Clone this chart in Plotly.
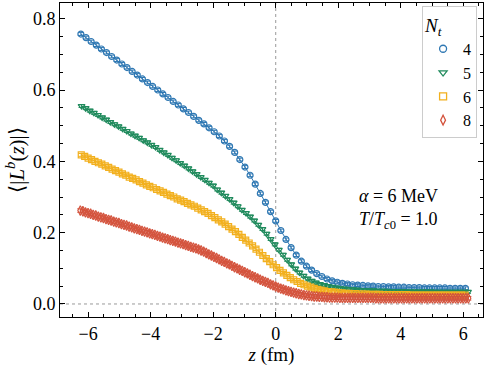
import numpy as np
import plotly.graph_objects as go

# ---------------- data ----------------
NT_LABELS = ["4", "5", "6", "8"]
# lattice start position (fm) and lattice spacing (fm) for each N_t
Z_START = [-6.232, -6.210, -6.220, -6.250]
Z_STEP = [0.164, 0.1315, 0.1096, 0.0822]

L_NT4 = [0.757,0.747,0.736,0.726,0.715,0.705,0.694,0.684,0.673,0.663,
         0.652,0.642,0.631,0.621,0.610,0.600,0.589,0.579,0.568,0.558,
         0.547,0.537,0.526,0.515,0.505,0.494,0.483,0.471,0.457,0.442,
         0.425,0.405,0.384,0.361,0.336,0.310,0.285,0.259,0.233,0.206,
         0.181,0.158,0.137,0.120,0.106,0.095,0.085,0.077,0.070,0.065,
         0.061,0.058,0.056,0.054,0.053,0.052,0.051,0.050,0.049,0.049,
         0.048,0.048,0.047,0.047,0.046,0.046,0.046,0.045,0.045,0.045,
         0.045,0.045,0.044,0.044,0.044,0.044]

L_NT5 = [0.555,0.549,0.542,0.536,0.530,0.523,0.517,0.510,0.504,0.498,
         0.491,0.485,0.478,0.472,0.466,0.459,0.453,0.446,0.440,0.432,
         0.425,0.418,0.410,0.403,0.395,0.388,0.380,0.372,0.364,0.356,
         0.348,0.340,0.332,0.321,0.312,0.303,0.294,0.284,0.274,0.264,
         0.255,0.245,0.234,0.222,0.210,0.197,0.182,0.167,0.152,0.138,
         0.124,0.111,0.099,0.088,0.079,0.071,0.065,0.060,0.056,0.053,
         0.050,0.048,0.046,0.044,0.043,0.042,0.041,0.040,0.039,0.039,
         0.038,0.038,0.037,0.037,0.037,0.036,0.036,0.036,0.036,0.035,
         0.035,0.035,0.035,0.035,0.035,0.035,0.034,0.034,0.034,0.034,
         0.034,0.034,0.034,0.034,0.034]

L_NT6 = [0.418,0.414,0.409,0.405,0.400,0.396,0.392,0.387,0.383,0.378,
         0.374,0.370,0.365,0.361,0.356,0.352,0.348,0.343,0.339,0.334,
         0.330,0.326,0.321,0.317,0.313,0.308,0.304,0.300,0.295,0.291,
         0.287,0.282,0.278,0.274,0.269,0.264,0.259,0.254,0.248,0.242,
         0.236,0.230,0.224,0.217,0.210,0.203,0.195,0.187,0.179,0.171,
         0.163,0.154,0.145,0.136,0.127,0.119,0.110,0.102,0.094,0.087,
         0.080,0.074,0.068,0.063,0.058,0.054,0.050,0.047,0.044,0.041,
         0.039,0.037,0.035,0.034,0.033,0.032,0.031,0.030,0.030,0.029,
         0.029,0.028,0.028,0.028,0.027,0.027,0.027,0.027,0.026,0.026,
         0.026,0.026,0.026,0.026,0.026,0.026,0.025,0.025,0.025,0.025,
         0.025,0.025,0.025,0.025,0.025,0.025,0.025,0.025,0.025,0.025,
         0.025,0.025,0.025]

L_NT8 = [0.262,0.260,0.257,0.255,0.253,0.250,0.248,0.245,0.243,0.241,
         0.238,0.236,0.234,0.231,0.229,0.227,0.224,0.222,0.220,0.217,
         0.215,0.212,0.210,0.208,0.205,0.203,0.201,0.198,0.196,0.194,
         0.191,0.189,0.186,0.184,0.182,0.179,0.177,0.175,0.172,0.170,
         0.168,0.165,0.163,0.160,0.158,0.156,0.153,0.150,0.147,0.143,
         0.139,0.136,0.132,0.129,0.125,0.121,0.118,0.114,0.111,0.107,
         0.103,0.100,0.096,0.093,0.089,0.086,0.082,0.078,0.075,0.072,
         0.068,0.065,0.062,0.059,0.055,0.052,0.049,0.046,0.043,0.041,
         0.038,0.036,0.034,0.032,0.030,0.028,0.027,0.025,0.024,0.023,
         0.022,0.021,0.021,0.020,0.020,0.019,0.019,0.018,0.018,0.018,
         0.018,0.017,0.017,0.017,0.017,0.017,0.017,0.017,0.017,0.017,
         0.017,0.017,0.017,0.017,0.017,0.016,0.016,0.016,0.016,0.016,
         0.016,0.016,0.016,0.016,0.016,0.016,0.016,0.016,0.016,0.016,
         0.016,0.016,0.016,0.016,0.016,0.016,0.016,0.016,0.016,0.016,
         0.016,0.016,0.016,0.016,0.016,0.016,0.016,0.016,0.016,0.016,
         0.016,0.016]

L_ERR = [0.004, 0.004, 0.004, 0.005]

X_TICKS = [-6, -4, -2, 0, 2, 4, 6]
Y_TICKS = [0.0, 0.2, 0.4, 0.6, 0.8]

SERIES = [L_NT4, L_NT5, L_NT6, L_NT8]
COLORS = ["#2f78b3", "#1f8a5c", "#f2b01e", "#d4543e"]
SYMBOLS = ["circle-open", "triangle-down-open", "square-open", "diamond-tall-open"]
SIZES = [6, 6, 6, 7]

FONT = "Liberation Serif, Times New Roman, serif"

fig = go.Figure()
for lab, ys, z0, dz, col, sym, err, sz in zip(NT_LABELS, SERIES, Z_START, Z_STEP,
                                              COLORS, SYMBOLS, L_ERR, SIZES):
    z = np.round(z0 + dz * np.arange(len(ys)), 4)
    fig.add_trace(go.Scatter(
        x=z, y=ys, name=lab, mode="lines+markers", showlegend=False,
        line=dict(color=col, width=1),
        marker=dict(symbol=sym, size=sz, color=col, line=dict(width=1.2, color=col)),
        error_y=dict(type="constant", value=err, color=col, thickness=1, width=3),
    ))
# legend entries: marker only, like the errorbar handles of the reference
for lab, col, sym in zip(NT_LABELS, COLORS, SYMBOLS):
    fig.add_trace(go.Scatter(
        x=[None], y=[None], name=lab, mode="markers",
        marker=dict(symbol=sym, size=7, color=col, line=dict(width=1.3, color=col)),
    ))

fig.add_vline(x=0, line=dict(color="#999999", width=1, dash="dot"), layer="below")
fig.add_hline(y=0, line=dict(color="#999999", width=1, dash="dot"), layer="below")

fig.add_annotation(
    xref="paper", yref="paper", x=0.703, y=0.265, xanchor="left", yanchor="bottom",
    text="<i>α</i> = 6 MeV<br><i>T</i>/<i>T</i><sub><i>c</i>0</sub> = 1.0",
    showarrow=False, align="left", font=dict(family=FONT, size=18, color="black"))

axis_common = dict(
    showline=True, linecolor="black", linewidth=1, mirror="ticks",
    ticks="inside", ticklen=5, tickcolor="black", showgrid=False, zeroline=False,
    tickfont=dict(family=FONT, size=18, color="black"),
)
fig.update_xaxes(**axis_common, range=[-6.9, 6.63], tickvals=X_TICKS,
                 ticktext=["\u2212" + str(abs(v)) if v < 0 else str(v) for v in X_TICKS],
                 minor=dict(ticks="inside", dtick=0.5, ticklen=3, tickcolor="black"),
                 title=dict(text="<i>z</i> (fm)", font=dict(family=FONT, size=19, color="black"),
                            standoff=4))
fig.update_yaxes(**axis_common, range=[-0.0365, 0.844], tickvals=Y_TICKS,
                 ticktext=[f"{v:.1f}" for v in Y_TICKS],
                 minor=dict(ticks="inside", dtick=0.05, ticklen=3, tickcolor="black"),
                 title=dict(text="\u27e8|<i>L</i><sup><i>b</i></sup>(<i>z</i>)|\u27e9",
                            font=dict(family=FONT, size=21, color="black"), standoff=2))

fig.update_layout(
    width=488, height=366,
    margin=dict(l=60, r=5, t=3, b=49),
    paper_bgcolor="white", plot_bgcolor="white",
    font=dict(family=FONT, color="black"),
    showlegend=True,
    legend=dict(
        title=dict(text="<i>N<sub>t</sub></i>", font=dict(family=FONT, size=19, color="black"),
                   side="top"),
        x=0.986, y=0.99, xanchor="right", yanchor="top",
        bgcolor="white", bordercolor="#cccccc", borderwidth=1,
        font=dict(family=FONT, size=16, color="black"),
        itemwidth=30, tracegroupgap=0,
    ),
)

fig.write_html("out.html", config={"displayModeBar": False},
               post_script="document.body.style.margin='0';")
